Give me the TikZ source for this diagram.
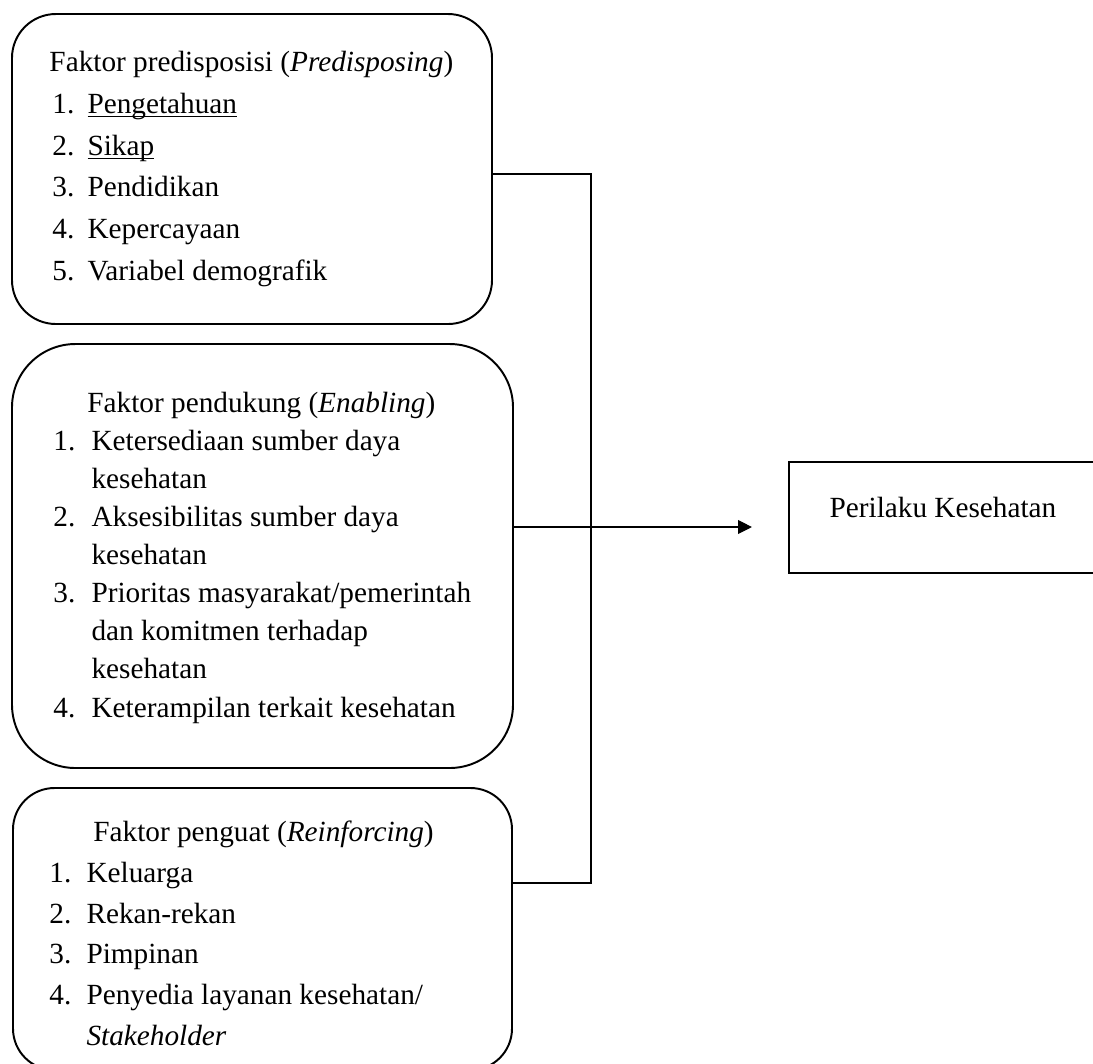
\documentclass[tikz,border=0pt]{standalone}
\usepackage{fontspec}
\setmainfont{Liberation Serif}
\usepackage{tikz}
\usetikzlibrary{arrows.meta}
\usetikzlibrary{fit}
\tikzset{>={Triangle[width=5.7pt,length=5.7pt]}}
\tikzset{
  kotak/.style={draw, line width=0.8pt, inner sep=0pt},
  isi/.style={anchor=base west, inner sep=0pt, align=left},
  garis/.style={line width=0.45pt}
}
\newcommand\garisbawah[1]{\setbox0\hbox{#1}\rlap{\rule[-1.5pt]{\wd0}{0.45pt}}\box0}
\newcommand\nomor[2]{\makebox[#1][l]{#2}}

\begin{document}
\begin{tikzpicture}[x=0.41pt, y=-0.41pt]

  \useasboundingbox (0,0) rectangle (1093,1063);

  \node[kotak, rounded corners=18pt, fit={(12,14) (492,324)}] (predisposisi) {};
  \node[kotak, rounded corners=26pt, fit={(12,344) (513,768)}] (pendukung) {};
  \node[kotak, rounded corners=17pt, fit={(13,788) (512,1070)}] (penguat) {};
  \node[kotak, fit={(789,462) (1097,573)}, font=\fontsize{12}{14}\selectfont] (perilaku) {Perilaku Kesehatan};

  % anchor base = garis dasar baris terakhir
  \node[isi, font=\fontsize{12}{17.06}\selectfont] (teks1) at (49,280)
    {Faktor predisposisi (\textit{Predisposing})\\
     \hspace*{1.2pt}\nomor{14.4pt}{1.}\garisbawah{Pengetahuan}\\
     \hspace*{1.2pt}\nomor{14.4pt}{2.}\garisbawah{Sikap}\\
     \hspace*{1.2pt}\nomor{14.4pt}{3.}Pendidikan\\
     \hspace*{1.2pt}\nomor{14.4pt}{4.}Kepercayaan\\
     \hspace*{1.2pt}\nomor{14.4pt}{5.}Variabel demografik};

  \node[isi, font=\fontsize{12}{15.6}\selectfont] (teks2) at (53,717)
    {\hspace*{13.9pt}Faktor pendukung (\textit{Enabling})\\
     \nomor{15.6pt}{1.}Ketersediaan sumber daya\\
     \hspace*{15.6pt}kesehatan\\
     \nomor{15.6pt}{2.}Aksesibilitas sumber daya\\
     \hspace*{15.6pt}kesehatan\\
     \nomor{15.6pt}{3.}Prioritas masyarakat/pemerintah\\
     \hspace*{15.6pt}dan komitmen terhadap\\
     \hspace*{15.6pt}kesehatan\\
     \nomor{15.6pt}{4.}Keterampilan terkait kesehatan};

  \node[isi, font=\fontsize{12}{16.65}\selectfont] (teks3) at (49,1045)
    {\hspace*{18pt}Faktor penguat (\textit{Reinforcing})\\
     \nomor{15.2pt}{1.}Keluarga\\
     \nomor{15.2pt}{2.}Rekan-rekan\\
     \nomor{15.2pt}{3.}Pimpinan\\
     \nomor{15.2pt}{4.}Penyedia layanan kesehatan/\\
     \hspace*{15.2pt}\textit{Stakeholder}};

  % garis penghubung
  \coordinate (simpul1) at (591,174);
  \coordinate (simpul2) at (591,527);
  \coordinate (simpul3) at (591,883);

  \draw[garis] (predisposisi.east |- simpul1) -- (simpul1) -- (simpul3) -- (penguat.east |- simpul3);
  \draw[garis, ->, shorten >=14.8pt] (pendukung.east |- simpul2) -- (perilaku.west |- simpul2);

\end{tikzpicture}
\end{document}
